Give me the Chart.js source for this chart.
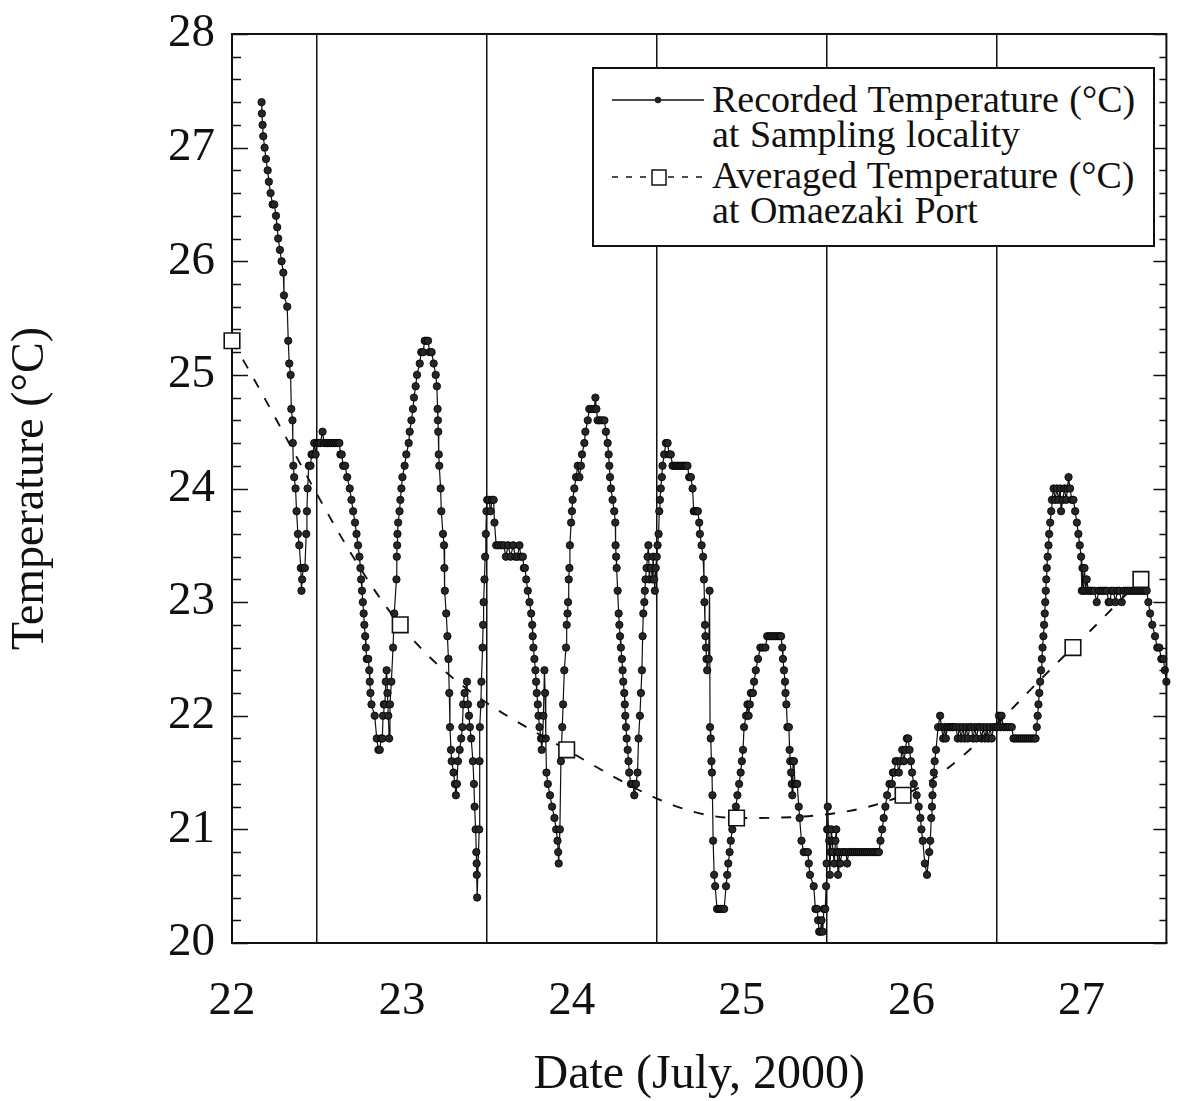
<!DOCTYPE html>
<html>
<head>
<meta charset="utf-8">
<script src="https://cdn.jsdelivr.net/npm/chart.js@4.4.1/dist/chart.umd.min.js"></script>
<style>
  html, body { margin: 0; padding: 0; background: #fff; }
  #wrap { position: relative; width: 1179px; height: 1101px; }
  canvas { display: block; }
  .lg { position: absolute; font-family: 'Liberation Serif', 'Times New Roman', serif; font-size: 38px; line-height: 38px; color: #111; white-space: nowrap; word-spacing: 1px; }
</style>
</head>
<body>
<div id="wrap">
  <canvas id="c" width="1179" height="1101"></canvas>
  <div style="position:absolute;left:592px;top:67px;width:559px;height:176px;border:2px solid #111;background:#fff;"></div>
  <svg style="position:absolute;left:600px;top:80px;" width="110" height="120">
    <line x1="12" y1="20" x2="104" y2="20" stroke="#111" stroke-width="1.4"/>
    <circle cx="58" cy="20" r="3.2" fill="#222"/>
    <line x1="12" y1="97" x2="104" y2="97" stroke="#111" stroke-width="1.4" stroke-dasharray="6,8"/>
    <rect x="52" y="90" width="14" height="15" fill="#fff" stroke="#111" stroke-width="1.5"/>
  </svg>
  <div class="lg" style="left:712px;top:80px;">Recorded Temperature (°C)</div>
  <div class="lg" style="left:712px;top:115px;">at Sampling locality</div>
  <div class="lg" style="left:712px;top:156px;">Averaged Temperature (°C)</div>
  <div class="lg" style="left:712px;top:191px;">at Omaezaki Port</div>
</div>
<script>
// ---- data ----
const xTickDays = [22, 23, 24, 25, 26, 27];
const yTickTemps = [20, 21, 22, 23, 24, 25, 26, 27, 28];

const averagedDay  = [22.0, 22.99, 23.97, 24.97, 25.95, 26.95, 27.35];
const averagedTemp = [25.3, 22.8, 21.7, 21.1, 21.3, 22.6, 23.2];

// [day, temperature] recorded at sampling locality
const recordedSeries = [
[22.174,27.4],[22.176,27.3],[22.180,27.2],[22.184,27.1],[22.192,27.0],[22.200,26.9],[22.210,26.8],[22.217,26.7],
[22.227,26.6],[22.239,26.5],[22.249,26.5],[22.259,26.4],[22.266,26.3],[22.272,26.2],[22.282,26.1],[22.292,26.0],
[22.302,25.9],[22.306,25.7],[22.325,25.6],[22.331,25.3],[22.337,25.1],[22.345,25.0],[22.349,24.7],[22.356,24.6],
[22.358,24.4],[22.361,24.2],[22.366,24.1],[22.374,24.0],[22.380,23.8],[22.388,23.6],[22.396,23.5],[22.405,23.3],
[22.409,23.1],[22.413,23.2],[22.419,23.3],[22.429,23.3],[22.437,23.6],[22.441,23.8],[22.445,24.0],[22.452,24.2],
[22.462,24.2],[22.468,24.3],[22.476,24.3],[22.484,24.4],[22.492,24.3],[22.500,24.4],[22.510,24.4],[22.520,24.4],
[22.533,24.5],[22.542,24.4],[22.552,24.4],[22.562,24.4],[22.572,24.4],[22.582,24.4],[22.592,24.4],[22.602,24.4],
[22.612,24.4],[22.622,24.4],[22.632,24.4],[22.638,24.3],[22.646,24.3],[22.654,24.2],[22.666,24.2],[22.678,24.1],
[22.693,24.0],[22.703,23.9],[22.713,23.8],[22.724,23.7],[22.733,23.6],[22.742,23.5],[22.750,23.4],[22.756,23.3],
[22.760,23.2],[22.765,23.1],[22.770,23.0],[22.775,22.9],[22.779,22.8],[22.784,22.7],[22.788,22.6],[22.793,22.5],
[22.802,22.5],[22.808,22.4],[22.811,22.3],[22.815,22.2],[22.821,22.1],[22.840,22.0],[22.852,21.8],[22.862,21.7],
[22.870,21.7],[22.878,21.8],[22.885,21.8],[22.889,22.0],[22.894,22.1],[22.900,22.1],[22.905,22.3],[22.910,22.4],
[22.915,22.2],[22.920,22.0],[22.925,21.8],[22.930,22.1],[22.938,22.3],[22.948,22.6],[22.955,22.9],[22.968,23.2],
[22.970,23.4],[22.972,23.5],[22.974,23.6],[22.978,23.7],[22.986,23.8],[22.991,23.9],[22.997,24.0],[23.003,24.1],
[23.016,24.2],[23.026,24.3],[23.040,24.4],[23.046,24.5],[23.056,24.6],[23.065,24.7],[23.071,24.8],[23.081,24.9],
[23.089,25.0],[23.105,25.1],[23.114,25.2],[23.125,25.2],[23.134,25.3],[23.144,25.3],[23.154,25.3],[23.163,25.2],
[23.175,25.2],[23.187,25.1],[23.199,25.0],[23.206,24.9],[23.210,24.7],[23.212,24.6],[23.214,24.5],[23.217,24.3],
[23.220,24.2],[23.228,24.0],[23.232,23.8],[23.242,23.6],[23.248,23.5],[23.250,23.3],[23.253,23.1],[23.261,22.9],
[23.268,22.7],[23.274,22.5],[23.279,22.2],[23.283,21.9],[23.289,21.7],[23.293,21.6],[23.304,21.5],[23.312,21.4],
[23.318,21.3],[23.324,21.4],[23.330,21.6],[23.340,21.7],[23.349,21.8],[23.356,21.9],[23.361,22.1],[23.369,22.2],
[23.383,22.3],[23.389,22.1],[23.395,22.0],[23.400,21.9],[23.408,21.8],[23.418,21.6],[23.424,21.4],[23.428,21.2],
[23.434,21.0],[23.438,20.8],[23.440,20.7],[23.441,20.6],[23.443,20.4],[23.455,21.0],[23.457,21.6],[23.459,21.9],
[23.465,22.1],[23.468,22.3],[23.475,22.6],[23.478,22.8],[23.481,23.0],[23.486,23.2],[23.490,23.4],[23.494,23.6],
[23.498,23.8],[23.502,23.9],[23.512,23.9],[23.522,23.8],[23.530,23.9],[23.540,23.9],[23.545,23.7],[23.555,23.5],
[23.570,23.5],[23.585,23.5],[23.600,23.5],[23.612,23.4],[23.625,23.5],[23.640,23.4],[23.655,23.5],[23.668,23.4],
[23.680,23.4],[23.692,23.5],[23.700,23.4],[23.712,23.4],[23.718,23.3],[23.724,23.3],[23.732,23.2],[23.741,23.1],
[23.751,23.0],[23.761,22.9],[23.767,22.8],[23.770,22.7],[23.774,22.6],[23.780,22.5],[23.786,22.4],[23.790,22.3],
[23.794,22.2],[23.800,22.1],[23.804,22.0],[23.810,21.9],[23.819,21.8],[23.823,21.7],[23.828,21.8],[23.833,22.0],
[23.839,22.4],[23.843,22.2],[23.847,21.8],[23.851,21.5],[23.859,21.4],[23.872,21.3],[23.884,21.2],[23.898,21.1],
[23.908,21.0],[23.916,20.9],[23.920,20.8],[23.923,20.7],[23.930,21.0],[23.936,21.6],[23.944,21.9],[23.949,22.1],
[23.956,22.4],[23.966,22.6],[23.970,22.8],[23.975,22.9],[23.978,23.0],[23.982,23.2],[23.986,23.3],[23.989,23.5],
[23.996,23.7],[24.001,23.8],[24.005,23.9],[24.015,24.0],[24.025,24.1],[24.035,24.2],[24.045,24.1],[24.054,24.2],
[24.060,24.3],[24.074,24.4],[24.080,24.5],[24.094,24.6],[24.103,24.7],[24.118,24.7],[24.132,24.7],[24.139,24.8],
[24.145,24.7],[24.152,24.6],[24.164,24.6],[24.178,24.6],[24.192,24.6],[24.201,24.5],[24.211,24.4],[24.217,24.3],
[24.221,24.2],[24.225,24.1],[24.231,24.0],[24.240,23.9],[24.250,23.8],[24.256,23.7],[24.258,23.5],[24.261,23.4],
[24.264,23.3],[24.270,23.1],[24.276,22.9],[24.280,22.8],[24.284,22.7],[24.289,22.6],[24.295,22.5],[24.299,22.4],
[24.303,22.3],[24.309,22.2],[24.312,22.1],[24.315,22.0],[24.319,21.9],[24.323,21.8],[24.329,21.7],[24.334,21.6],
[24.338,21.5],[24.348,21.4],[24.360,21.4],[24.368,21.3],[24.378,21.4],[24.387,21.5],[24.393,21.8],[24.401,22.0],
[24.407,22.2],[24.413,22.4],[24.417,22.7],[24.421,22.9],[24.427,23.0],[24.430,23.1],[24.434,23.2],[24.440,23.3],
[24.446,23.4],[24.451,23.5],[24.456,23.2],[24.462,23.3],[24.468,23.3],[24.474,23.2],[24.479,23.4],[24.485,23.2],
[24.489,23.1],[24.494,23.3],[24.500,23.4],[24.505,23.5],[24.511,23.6],[24.515,23.8],[24.519,23.9],[24.524,24.0],
[24.530,24.1],[24.534,24.2],[24.544,24.3],[24.554,24.4],[24.564,24.4],[24.573,24.3],[24.583,24.3],[24.593,24.2],
[24.603,24.2],[24.613,24.2],[24.623,24.2],[24.632,24.2],[24.642,24.2],[24.652,24.2],[24.661,24.2],[24.671,24.2],
[24.681,24.2],[24.691,24.1],[24.701,24.1],[24.711,24.0],[24.718,23.8],[24.726,23.8],[24.734,23.8],[24.742,23.8],
[24.750,23.7],[24.754,23.6],[24.764,23.5],[24.773,23.4],[24.778,23.2],[24.781,23.0],[24.784,22.8],[24.787,22.7],
[24.790,22.6],[24.793,22.5],[24.797,22.4],[24.806,22.5],[24.811,23.1],[24.814,21.9],[24.818,21.8],[24.822,21.6],
[24.825,21.5],[24.828,21.3],[24.832,20.9],[24.838,20.6],[24.844,20.5],[24.855,20.3],[24.865,20.3],[24.875,20.3],
[24.886,20.3],[24.897,20.3],[24.908,20.5],[24.915,20.6],[24.921,20.7],[24.929,20.8],[24.936,20.9],[24.945,21.0],
[24.955,21.1],[24.966,21.2],[24.975,21.3],[24.985,21.4],[24.994,21.5],[25.001,21.6],[25.008,21.7],[25.014,21.9],
[25.026,22.0],[25.034,22.1],[25.041,22.0],[25.048,22.1],[25.054,22.2],[25.066,22.2],[25.073,22.3],[25.083,22.4],
[25.096,22.5],[25.110,22.6],[25.124,22.6],[25.140,22.6],[25.150,22.7],[25.162,22.7],[25.174,22.7],[25.186,22.7],
[25.198,22.7],[25.210,22.7],[25.222,22.7],[25.232,22.7],[25.239,22.6],[25.243,22.5],[25.249,22.4],[25.255,22.3],
[25.258,22.2],[25.263,22.1],[25.269,21.9],[25.278,21.9],[25.282,21.7],[25.286,21.6],[25.291,21.5],[25.295,21.4],
[25.298,21.3],[25.302,21.6],[25.308,21.6],[25.313,21.4],[25.320,21.4],[25.327,21.4],[25.336,21.2],[25.341,21.1],
[25.352,20.9],[25.365,20.8],[25.378,20.8],[25.390,20.8],[25.395,20.7],[25.402,20.6],[25.424,20.5],[25.434,20.3],
[25.444,20.3],[25.450,20.2],[25.456,20.1],[25.464,20.1],[25.470,20.2],[25.477,20.1],[25.484,20.3],[25.492,20.3],
[25.497,20.5],[25.500,20.7],[25.503,21.0],[25.507,21.2],[25.511,21.0],[25.515,20.9],[25.519,20.6],[25.523,20.8],
[25.528,21.0],[25.533,20.9],[25.538,20.8],[25.545,20.7],[25.552,20.9],[25.557,21.0],[25.562,20.8],[25.567,20.6],
[25.572,20.8],[25.580,20.7],[25.590,20.8],[25.602,20.8],[25.614,20.8],[25.621,20.7],[25.630,20.8],[25.642,20.8],
[25.654,20.8],[25.666,20.8],[25.678,20.8],[25.690,20.8],[25.702,20.8],[25.714,20.8],[25.726,20.8],[25.738,20.8],
[25.750,20.8],[25.762,20.8],[25.774,20.8],[25.786,20.8],[25.798,20.8],[25.808,20.8],[25.817,20.9],[25.827,21.0],
[25.836,21.1],[25.846,21.2],[25.856,21.3],[25.870,21.4],[25.884,21.4],[25.890,21.5],[25.898,21.5],[25.906,21.6],
[25.915,21.6],[25.925,21.5],[25.935,21.6],[25.945,21.7],[25.955,21.6],[25.964,21.7],[25.972,21.8],[25.980,21.8],
[25.988,21.7],[25.996,21.6],[26.003,21.5],[26.013,21.4],[26.030,21.3],[26.042,21.2],[26.052,21.1],[26.058,21.0],
[26.066,20.9],[26.078,20.7],[26.091,20.6],[26.104,20.8],[26.110,20.9],[26.116,21.1],[26.120,21.2],[26.123,21.3],
[26.126,21.4],[26.131,21.5],[26.136,21.6],[26.144,21.7],[26.156,21.9],[26.168,22.0],[26.176,21.9],[26.186,21.8],
[26.194,21.9],[26.202,21.8],[26.210,21.9],[26.220,21.9],[26.230,21.9],[26.240,21.9],[26.250,21.9],[26.262,21.9],
[26.272,21.8],[26.282,21.9],[26.292,21.8],[26.302,21.9],[26.312,21.8],[26.322,21.9],[26.332,21.8],[26.342,21.9],
[26.352,21.9],[26.362,21.8],[26.372,21.9],[26.382,21.8],[26.392,21.9],[26.402,21.9],[26.412,21.8],[26.422,21.9],
[26.432,21.8],[26.442,21.9],[26.452,21.8],[26.462,21.9],[26.472,21.8],[26.482,21.9],[26.494,21.9],[26.506,21.9],
[26.514,22.0],[26.522,21.9],[26.530,22.0],[26.540,21.9],[26.552,21.9],[26.564,21.9],[26.576,21.9],[26.590,21.9],
[26.600,21.8],[26.612,21.8],[26.624,21.8],[26.636,21.8],[26.648,21.8],[26.660,21.8],[26.672,21.8],[26.684,21.8],
[26.696,21.8],[26.708,21.8],[26.720,21.8],[26.730,21.8],[26.737,21.9],[26.742,22.0],[26.747,22.1],[26.752,22.2],
[26.757,22.3],[26.762,22.4],[26.767,22.5],[26.771,22.6],[26.776,22.7],[26.780,22.8],[26.784,22.9],[26.787,23.0],
[26.790,23.1],[26.793,23.2],[26.796,23.3],[26.801,23.4],[26.806,23.5],[26.810,23.6],[26.816,23.7],[26.822,23.8],
[26.826,23.9],[26.836,24.0],[26.845,23.9],[26.855,24.0],[26.865,23.9],[26.875,24.0],[26.880,23.8],[26.890,23.9],
[26.900,24.0],[26.910,23.9],[26.918,24.0],[26.924,24.1],[26.933,24.0],[26.943,23.9],[26.953,23.9],[26.963,23.8],
[26.973,23.7],[26.982,23.6],[26.990,23.5],[26.998,23.4],[27.002,23.1],[27.006,23.3],[27.012,23.1],[27.018,23.3],
[27.025,23.1],[27.031,23.2],[27.041,23.1],[27.052,23.1],[27.064,23.1],[27.076,23.1],[27.090,23.0],[27.102,23.1],
[27.114,23.1],[27.126,23.1],[27.138,23.1],[27.150,23.1],[27.160,23.0],[27.168,23.0],[27.176,23.1],[27.188,23.1],
[27.200,23.0],[27.212,23.1],[27.224,23.1],[27.237,23.0],[27.250,23.1],[27.262,23.1],[27.274,23.1],[27.286,23.1],
[27.298,23.1],[27.310,23.1],[27.322,23.1],[27.334,23.1],[27.346,23.1],[27.358,23.1],[27.370,23.1],[27.384,23.1],
[27.394,23.0],[27.404,22.9],[27.417,22.8],[27.433,22.7],[27.446,22.6],[27.458,22.6],[27.470,22.5],[27.482,22.5],
[27.491,22.4],[27.500,22.3],[27.511,22.3],[27.521,22.2],[27.531,22.2],[27.540,22.1],[27.550,22.1]
];

// ---- chart ----
const INK = '#111';
const FONT = "'Liberation Serif', 'Times New Roman', serif";

const frameTicks = {
  id: 'frameTicks',
  afterDraw(chart) {
    const { ctx, chartArea: { left, right, top, bottom }, scales: { y } } = chart;
    ctx.save();
    ctx.strokeStyle = INK;
    ctx.lineWidth = 2;
    ctx.beginPath();
    ctx.moveTo(left, top); ctx.lineTo(right, top); ctx.lineTo(right, bottom);
    ctx.stroke();
    ctx.lineWidth = 1.5;
    const lo = yTickTemps[0], hi = yTickTemps[yTickTemps.length - 1];
    for (let k = 0; k <= (hi - lo) * 5; k++) {
      const v = lo + k / 5;
      const py = Math.round(y.getPixelForValue(v)) + 0.5;
      const major = k % 5 === 0;
      ctx.beginPath();
      ctx.moveTo(left, py); ctx.lineTo(left + (major ? 16 : 9), py);
      ctx.moveTo(right, py); ctx.lineTo(right - (major ? 13 : 7), py);
      ctx.stroke();
    }
    ctx.restore();
  }
};

new Chart(document.getElementById('c'), {
  type: 'line',
  data: {
    datasets: [
      {
        label: 'Averaged Temperature (°C) at Omaezaki Port',
        data: averagedDay.map((d, i) => ({ x: d, y: averagedTemp[i] })),
        order: 0,
        borderColor: INK,
        borderWidth: 1.9,
        borderDash: [10, 12],
        cubicInterpolationMode: 'monotone',
        pointStyle: 'rect',
        pointRadius: 11,
        pointBackgroundColor: '#fff',
        pointBorderColor: INK,
        pointBorderWidth: 1.6,
        clip: false
      },
      {
        label: 'Recorded Temperature (°C) at Sampling locality',
        data: recordedSeries.map(p => ({ x: p[0], y: p[1] })),
        order: 1,
        borderColor: INK,
        borderWidth: 1.2,
        tension: 0,
        pointRadius: 3.7,
        pointBackgroundColor: '#262626',
        pointBorderColor: '#000',
        pointBorderWidth: 0.8,
        clip: false
      }
    ]
  },
  options: {
    responsive: false,
    animation: false,
    devicePixelRatio: 1,
    layout: { padding: { top: 34, right: 11, left: 0, bottom: 0 } },
    plugins: { legend: { display: false }, tooltip: { enabled: false } },
    scales: {
      x: {
        type: 'linear',
        min: 22, max: 27.5,
        afterBuildTicks: s => {
          const t = [];
          for (let k = 0; k <= 11; k++) t.push({ value: 22 + k * 0.5 });
          s.ticks = t;
        },
        ticks: {
          autoSkip: false, maxRotation: 0, padding: 30,
          color: INK, font: { family: FONT, size: 47 },
          callback: v => xTickDays.includes(v) ? String(v) : ''
        },
        grid: {
          drawTicks: false,
          lineWidth: 1.5,
          color: c => (c.tick && Math.abs((c.tick.value % 1) - 0.5) < 1e-6 && c.tick.value < 27.4) ? INK : 'rgba(0,0,0,0)'
        },
        border: { display: true, color: INK, width: 2 },
        title: {
          display: true, text: 'Date (July, 2000)', color: INK,
          font: { family: FONT, size: 48, lineHeight: 1.0 },
          padding: { top: 0, bottom: 2 }
        },
        afterFit: s => { s.height = 158; s.paddingLeft = 0; s.paddingRight = 0; }
      },
      y: {
        min: 20, max: 28,
        afterBuildTicks: s => { s.ticks = yTickTemps.map(v => ({ value: v })); },
        ticks: { padding: 17, color: INK, font: { family: FONT, size: 47 } },
        grid: { display: true, drawTicks: false, color: 'rgba(0,0,0,0)' },
        border: { display: true, color: INK, width: 2 },
        title: {
          display: true, text: 'Temperature (°C)', color: INK,
          font: { family: FONT, size: 46, lineHeight: 1.2 },
          padding: { top: 3, bottom: 0 }
        },
        afterFit: s => { s.width = 232; s.paddingTop = 0; s.paddingBottom = 0; }
      }
    }
  },
  plugins: [frameTicks]
});
</script>
</body>
</html>
